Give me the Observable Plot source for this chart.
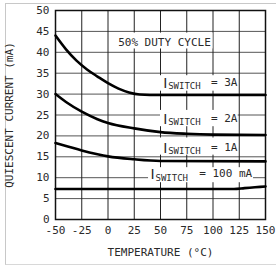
<!DOCTYPE html>
<html><head><meta charset="utf-8">
<script src="https://cdn.jsdelivr.net/npm/d3@7"></script>
<script src="https://cdn.jsdelivr.net/npm/@observablehq/plot@0.6"></script>
<style>
body{margin:0;background:#fff;}
#wrap{position:relative;width:276px;height:268px;overflow:hidden;background:#fff;}
#edge{position:absolute;left:5px;top:3px;width:271px;height:262px;border-left:1px solid #c8c8c8;border-top:1px solid #c8c8c8;border-bottom:1px solid #d8d8d8;box-sizing:border-box;}
#chart{position:absolute;left:0;top:0;}
</style></head><body>
<div id="wrap"><div id="edge"></div><div id="chart"></div></div>
<script>
// Tick values
const tempTicks = [-50, -25, 0, 25, 50, 75, 100, 125, 150];
const currentTicks = [0, 5, 10, 15, 20, 25, 30, 35, 40, 45, 50];

// Series (temperature °C, quiescent current mA)
const temp3A = [-50, -40, -30, -20, -10, 0, 10, 20, 30, 40, 150];
const current3A = [44, 40.7, 38, 35.9, 34.2, 32.6, 31.3, 30.4, 29.9, 29.8, 29.8];
const temp2A = [-50, -40, -25, -10, 0, 25, 50, 75, 100, 150];
const current2A = [30, 28.1, 25.8, 24, 23.1, 21.8, 20.9, 20.5, 20.3, 20.2];
const temp1A = [-50, -40, -25, -10, 0, 25, 50, 150];
const current1A = [18.3, 17.6, 16.5, 15.6, 15.1, 14.4, 14.0, 13.9];
const temp100mA = [-50, 120, 130, 140, 150];
const current100mA = [7.3, 7.3, 7.5, 7.7, 7.9];

const seriesNames = ["3A", "2A", "1A", "100 mA"];
const seriesTemps = [temp3A, temp2A, temp1A, temp100mA];
const seriesCurrents = [current3A, current2A, current1A, current100mA];

const labelRight = ["= 3A", "= 2A", "= 1A", "= 100 mA"];
const dutyText = "50% DUTY CYCLE";
const xTitle = "TEMPERATURE (°C)";
const yTitle = "QUIESCENT CURRENT (mA)";

const rows = seriesNames.flatMap((s, i) =>
  seriesTemps[i].map((t, j) => ({series: s, t, c: seriesCurrents[i][j]})));

// annotation placement (data coordinates)
const notes = [
  {x0: 52.5, x1: 123.3, y: 32.8, rhs: labelRight[0], bx1: 50, bx2: 124, by1: 30.7, by2: 34.4},
  {x0: 52.5, x1: 123.3, y: 24.2, rhs: labelRight[1], bx1: 50, bx2: 124, by1: 22.2, by2: 26.1},
  {x0: 52.5, x1: 123.3, y: 17.3, rhs: labelRight[2], bx1: 50, bx2: 124, by1: 15.4, by2: 19.5},
  {x0: 40.5, x1: 137.3, y: 10.9, rhs: labelRight[3], bx1: 38.6, bx2: 138.6, by1: 8.8, by2: 12.4}
];
const boxes = [{bx1: 9, bx2: 100, by1: 40.8, by2: 44.6}, ...notes];

const chart = Plot.plot({
  width: 276, height: 268,
  marginLeft: 55, marginRight: 11, marginTop: 10, marginBottom: 49,
  x: {domain: [-50, 150]},
  y: {domain: [0, 50]},
  style: {fontFamily: "'DejaVu Sans Mono', monospace", fontSize: "11px", color: "#2a2a2a", background: "transparent"},
  marks: [
    Plot.ruleY(currentTicks, {stroke: "#555"}),
    Plot.ruleX(tempTicks, {stroke: "#222"}),
    Plot.rect(boxes, {x1: "bx1", x2: "bx2", y1: "by1", y2: "by2", fill: "white"}),
    Plot.frame({stroke: "#111", strokeWidth: 1.5}),
    Plot.line(rows, {x: "t", y: "c", z: "series", curve: "monotone-x", stroke: "#000", strokeWidth: 2.6}),
    Plot.axisX({ticks: tempTicks, tickSize: 0, tickPadding: 7, label: null, tickFormat: d => String(d)}),
    Plot.axisY({ticks: currentTicks, tickSize: 0, tickPadding: 6, label: null}),
    Plot.text([xTitle], {frameAnchor: "bottom", dy: 36, fontSize: 11}),
    Plot.text([yTitle], {frameAnchor: "left", textAnchor: "middle", dx: -46, rotate: -90, fontSize: 11}),
    Plot.text([dutyText], {x: () => 53.8, y: () => 42.3, fontSize: 11}),
    Plot.text(notes, {x: "x0", y: "y", text: () => "I", textAnchor: "start", fontSize: 14, fontFamily: "DejaVu Sans", dy: 1}),
    Plot.text(notes, {x: "x0", y: "y", text: () => "SWITCH", textAnchor: "start", fontSize: 9, dx: 5, dy: 4}),
    Plot.text(notes, {x: "x1", y: "y", text: "rhs", textAnchor: "end", fontSize: 11})
  ]
});
document.getElementById("chart").appendChild(chart);
</script>
</body></html>
